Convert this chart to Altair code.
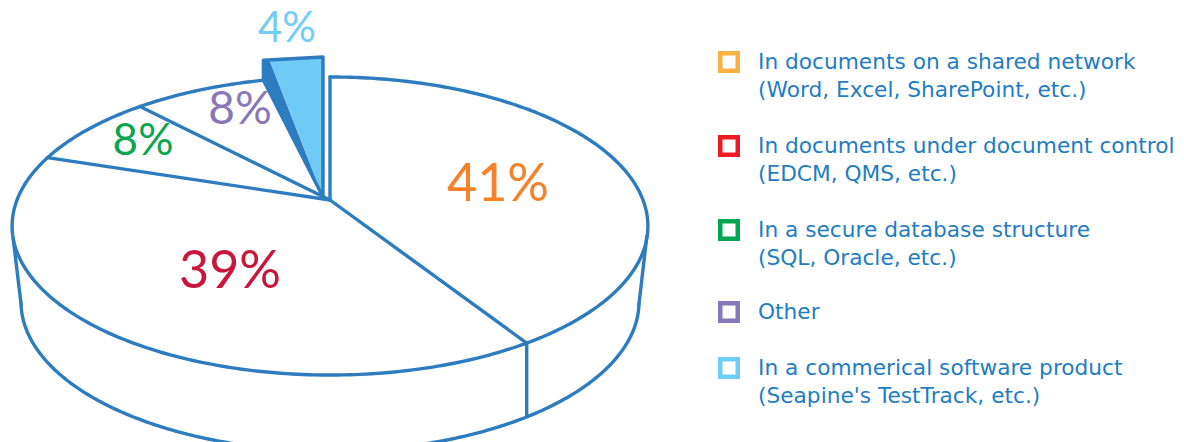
import math
import altair as alt
import pandas as pd

# Survey shares, clockwise from twelve o'clock
shares = [41, 39, 8, 8, 4]
share_labels = ["41%", "39%", "8%", "8%", "4%"]
label_colors = ["#f58229", "#c8173b", "#09a651", "#8a77b8", "#71cdf5"]
label_x = [498, 230, 143, 240, 287]
label_y = [185, 272, 142, 110, 29]
label_sizes = [52, 52, 44, 46, 42]

swatch_colors = ["#fbb040", "#ed1c24", "#00a651", "#8677b9", "#6dcff6"]
legend_rows = [62, 146, 230, 312, 368]
legend_first = [
    "In documents on a shared network",
    "In documents under document control",
    "In a secure database structure",
    "Other",
    "In a commerical software product",
]
legend_second = [
    "(Word, Excel, SharePoint, etc.)",
    "(EDCM, QMS, etc.)",
    "(SQL, Oracle, etc.)",
    "",
    "(Seapine's TestTrack, etc.)",
]

LINE = "#2e7cc0"
TEXT = "#1f7dc1"
FONT = "DejaVu Sans"

# Perspective projection of the unit disc onto the tilted pie top
CX, CY, KX, A, C = 330.0, 200.0, 313.0, 109.6, -0.1745


def project(share_pos, radius=1.0):
    theta = 2 * math.pi * share_pos / 100
    u = radius * math.sin(theta)
    v = -radius * math.cos(theta)
    den = 1 + C * v
    return CX + KX * u / den, (A * v + CY) / den


def lower_rim(share_pos):
    x, y = project(share_pos)
    return CX + (x - CX) * 0.972, y + 76


paths = []


def add_path(name, points):
    for i, (x, y) in enumerate(points):
        paths.append({"path": name, "step": i, "x": x, "y": y})


# Cumulative slice boundaries
bounds = [0]
for s in shares:
    bounds.append(bounds[-1] + s)

# Top rim of the main pie, stopping where the pulled-out slice begins
rim_end = bounds[4]
add_path("rim", [project(rim_end * i / 400) for i in range(401)])

# Spokes from the centre to each boundary
for i in range(0, 4):
    add_path(f"spoke{i}", [(CX, CY), project(bounds[i])])

# Side wall: lower rim, the two silhouette edges, the seam under the first slice
wall_start, wall_end = 28.0, 72.0
wall = [lower_rim(wall_start + (wall_end - wall_start) * i / 300) for i in range(301)]
add_path("wall", wall)
top_right = max((project(p / 10) for p in range(150, 350)), key=lambda q: q[0])
top_left = min((project(p / 10) for p in range(650, 850)), key=lambda q: q[0])
add_path("edgeR", [(top_right[0] - 1, top_right[1] + 10), wall[0]])
add_path("edgeL", [(top_left[0] + 1, top_left[1] + 12), wall[-1]])
seam = project(bounds[1])
seam_foot = min(wall, key=lambda q: abs(q[0] - seam[0]))
add_path("seam", [seam, (seam[0], seam_foot[1])])

# Pulled-out slice, with its dark cut face showing on the left
LIFT = 20
corner = project(bounds[4])
upper_left = (corner[0], corner[1] - LIFT)
upper_right = (CX - 7, project(0)[1] - LIFT)
apex = (CX - 7, CY - 3)
add_path("slice", [upper_left, upper_right, apex, corner, upper_left])

FACE = 6
top_slope = (upper_right[1] - upper_left[1]) / (upper_right[0] - upper_left[0])
face_x = upper_left[0] + FACE
face_y = upper_left[1] + FACE * top_slope
lower_slope = (apex[1] - corner[1]) / (apex[0] - corner[0])
blue = pd.DataFrame(
    [
        {"x": face_x, "y": face_y, "y2": face_y},
        {"x": upper_right[0], "y": upper_right[1], "y2": apex[1]},
    ]
)
dark = pd.DataFrame(
    [
        {"x": corner[0], "y": upper_left[1], "y2": corner[1]},
        {"x": face_x, "y": face_y, "y2": corner[1] + FACE * lower_slope},
        {"x": apex[0], "y": apex[1], "y2": apex[1]},
    ]
)

x_enc = alt.X("x:Q", scale=alt.Scale(domain=[0, 1184], nice=False, zero=False), axis=None)
y_enc = alt.Y("y:Q", scale=alt.Scale(domain=[442, 0], nice=False, zero=False), axis=None)

dark_layer = alt.Chart(dark).mark_area(color=LINE, clip=True).encode(x_enc, y_enc, y2="y2:Q")
blue_layer = alt.Chart(blue).mark_area(color="#6fcaf5", clip=True).encode(x_enc, y_enc, y2="y2:Q")

lines = (
    alt.Chart(pd.DataFrame(paths))
    .mark_line(color=LINE, strokeWidth=3.4, strokeCap="round", strokeJoin="round", clip=True)
    .encode(x_enc, y_enc, detail="path:N", order="step:Q")
)

pct = pd.DataFrame(
    {
        "x": label_x,
        "y": label_y,
        "label": share_labels,
        "color": label_colors,
        "size": label_sizes,
    }
)
pct_layer = (
    alt.Chart(pct)
    .mark_text(font="Lato", align="center", baseline="middle")
    .encode(
        x_enc,
        y_enc,
        text="label:N",
        color=alt.Color("color:N", scale=None),
        size=alt.Size("size:Q", scale=None),
    )
)

swatches = pd.DataFrame(
    {"x": [729] * 5, "y": legend_rows, "color": swatch_colors}
)
swatch_layer = (
    alt.Chart(swatches)
    .mark_square(size=306, strokeWidth=4.5, fill="white", opacity=1)
    .encode(x_enc, y_enc, stroke=alt.Stroke("color:N", scale=None))
)

legend_text = []
for row, first, second in zip(legend_rows, legend_first, legend_second):
    legend_text.append({"x": 758, "y": row, "line": first})
    if second:
        legend_text.append({"x": 758, "y": row + 28, "line": second})
legend_layer = (
    alt.Chart(pd.DataFrame(legend_text))
    .mark_text(font=FONT, fontSize=21.7, color=TEXT, align="left", baseline="middle")
    .encode(x_enc, y_enc, text="line:N")
)

chart = (
    alt.layer(dark_layer, blue_layer, lines, pct_layer, swatch_layer, legend_layer)
    .properties(width=1184, height=442, padding=0, autosize=alt.AutoSizeParams(type="none"))
    .configure_view(stroke=None)
)

chart.save("out.html", embed_options={"renderer": "svg", "actions": False})
